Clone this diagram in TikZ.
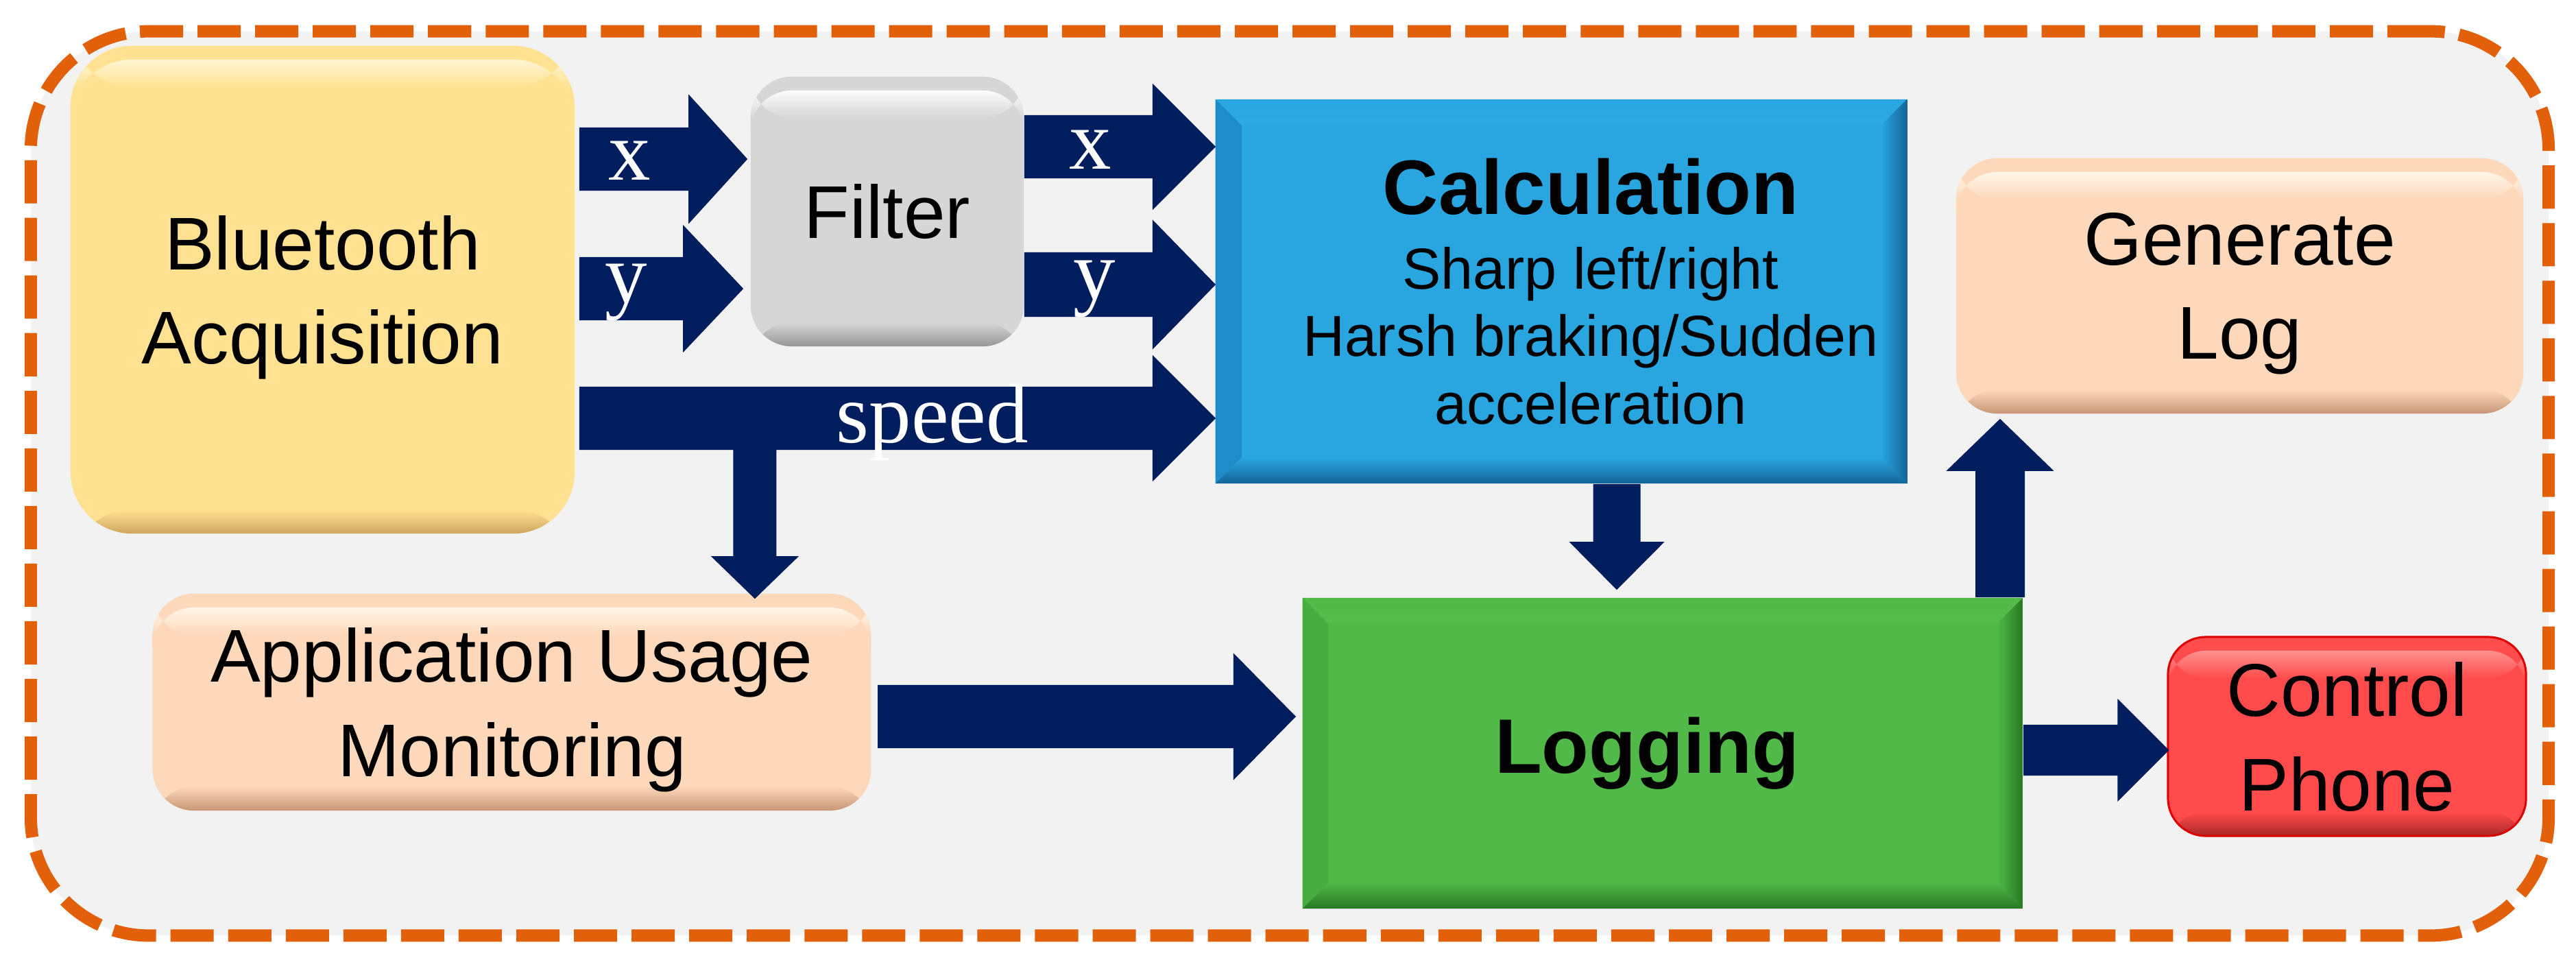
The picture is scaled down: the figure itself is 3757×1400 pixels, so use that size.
\documentclass[tikz,border=0pt]{standalone}
\usepackage{fontspec}
\setmainfont{Liberation Sans}
\newfontfamily\lblfont{Liberation Serif}
\usetikzlibrary{calc}
\definecolor{arrowblue}{RGB}{0,30,94}
\definecolor{frameorange}{RGB}{226,96,10}
\definecolor{bgray}{RGB}{242,242,242}
\definecolor{btmain}{RGB}{255,226,145}
\definecolor{btlight}{RGB}{255,246,212}
\definecolor{btdark}{RGB}{205,165,95}
\definecolor{fltmain}{RGB}{214,214,214}
\definecolor{fltlight}{RGB}{252,252,252}
\definecolor{fltdark}{RGB}{150,150,150}
\definecolor{calcmain}{RGB}{41,166,224}
\definecolor{calclight}{RGB}{95,212,255}
\definecolor{calcside}{RGB}{30,140,200}
\definecolor{calcdark}{RGB}{20,100,150}
\definecolor{peach}{RGB}{253,216,186}
\definecolor{peachlight}{RGB}{255,246,232}
\definecolor{peachdark}{RGB}{200,150,120}
\definecolor{logmain}{RGB}{80,185,72}
\definecolor{loglight}{RGB}{145,235,125}
\definecolor{logside}{RGB}{72,172,64}
\definecolor{logdark}{RGB}{40,120,35}
\definecolor{ctlmain}{RGB}{255,75,75}
\definecolor{ctllight}{RGB}{255,145,145}
\definecolor{ctldark}{RGB}{170,40,40}
\definecolor{ctledge}{RGB}{220,0,0}
\begin{document}
\begin{tikzpicture}[x=0.01cm,y=-0.01cm,
  frame/.style={draw=frameorange, fill=bgray, line width=0.18cm,
    dash pattern=on 0.63cm off 0.21cm, rounded corners=1.72cm,
    minimum width=36.7cm, minimum height=13.18cm},
  boxtext/.style={align=center, text=black, font=\fontsize{31pt}{39pt}\selectfont},
  rbox/.style n args={3}{boxtext, fill=#1, inner sep=0pt, text depth=0pt, path picture={
    \shade[top color=#1, bottom color=#2] (path picture bounding box.north west)
      rectangle ([yshift=-0.2cm]path picture bounding box.north east);
    \shade[top color=#2, bottom color=#1] ([yshift=-0.2cm]path picture bounding box.north west)
      rectangle ([yshift=-0.6cm]path picture bounding box.north east);
    \shade[top color=#1, bottom color=#3] ([yshift=0.35cm]path picture bounding box.south west)
      rectangle (path picture bounding box.south east);
  }},
  bbox/.style n args={4}{boxtext, fill=#1, inner sep=0pt, path picture={
    \shade[top color=#1, bottom color=#2] (path picture bounding box.north west)
      -- (path picture bounding box.north east)
      -- ([shift={(-0.38cm,-0.38cm)}]path picture bounding box.north east)
      -- ([shift={(0.38cm,-0.38cm)}]path picture bounding box.north west) -- cycle;
    \fill[#3] (path picture bounding box.north west)
      -- ([shift={(0.38cm,-0.38cm)}]path picture bounding box.north west)
      -- ([shift={(0.38cm,0.38cm)}]path picture bounding box.south west)
      -- (path picture bounding box.south west) -- cycle;
    \shade[left color=#1, right color=#4] ([shift={(-0.38cm,-0.38cm)}]path picture bounding box.north east)
      -- (path picture bounding box.north east)
      -- (path picture bounding box.south east)
      -- ([shift={(-0.38cm,0.38cm)}]path picture bounding box.south east) -- cycle;
    \shade[top color=#1, bottom color=#4] (path picture bounding box.south west)
      -- ([shift={(0.38cm,0.38cm)}]path picture bounding box.south west)
      -- ([shift={(-0.38cm,0.38cm)}]path picture bounding box.south east)
      -- (path picture bounding box.south east) -- cycle;
  }},
  blk/.style n args={3}{fill=arrowblue, draw=none, to path={
    ($(\tikztostart)!#1!90:(\tikztotarget)$)
    -- ($(\tikztotarget)!#3!(\tikztostart)!#1!90:(\tikztotarget)$)
    -- ($(\tikztotarget)!#3!(\tikztostart)!#2!90:(\tikztotarget)$)
    -- (\tikztotarget)
    -- ($(\tikztotarget)!#3!(\tikztostart)!#2!-90:(\tikztotarget)$)
    -- ($(\tikztotarget)!#3!(\tikztostart)!#1!-90:(\tikztotarget)$)
    -- ($(\tikztostart)!#1!-90:(\tikztotarget)$) -- cycle}},
  lbl/.style={text=white, inner sep=0pt, anchor=base,
    font=\lblfont\fontsize{35pt}{35pt}\selectfont}
]
\useasboundingbox (0,0) rectangle (3757,1400);
\fill[white] (0,0) rectangle (3757,1400);

\node[frame] (frame) at (1881,705) {};

% boxes
\node[rbox={btmain}{btlight}{btdark}, minimum width=7.35cm, minimum height=7.11cm,
  rounded corners=0.9cm] (bt) at (470.5,422.5) {Bluetooth\\Acquisition};
\node[rbox={fltmain}{fltlight}{fltdark}, minimum width=3.98cm, minimum height=3.93cm,
  rounded corners=0.6cm] (flt) at (1294,308.5) {Filter};
\node[bbox={calcmain}{calclight}{calcside}{calcdark}, minimum width=10.08cm,
  minimum height=5.6cm, font=\fontsize{24pt}{28pt}\selectfont] (calc) at (2277,425)
  {\hspace*{0.86cm}{\fontsize{32pt}{32pt}\selectfont\bfseries Calculation}\\[3pt]%
   \hspace*{0.86cm}Sharp left/right\\\hspace*{0.86cm}Harsh braking/Sudden\\\hspace*{0.86cm}acceleration};
\node[rbox={peach}{peachlight}{peachdark}, minimum width=8.27cm, minimum height=3.72cm,
  rounded corners=0.6cm] (gen) at (3266.5,417) {Generate\\Log};
\node[rbox={peach}{peachlight}{peachdark}, minimum width=10.47cm, minimum height=3.16cm,
  rounded corners=0.6cm] (app) at (746.5,1024) {Application Usage\\Monitoring};
\node[bbox={logmain}{loglight}{logside}{logdark}, minimum width=10.5cm,
  minimum height=4.53cm, font=\fontsize{32pt}{39pt}\selectfont\bfseries] (log) at (2425,1098.5)
  {Logging\hspace*{0.46cm}};
\node[rbox={ctlmain}{ctllight}{ctldark}, draw=ctledge, line width=0.03cm,
  minimum width=5.22cm, minimum height=2.9cm, rounded corners=0.55cm] (ctl) at (3423,1074) {Control\\Phone};

% connector end points
\coordinate (x1s) at ($(bt.east)+(6,-190.5)$);
\coordinate (x1e) at ($(flt.west)+(-4,-76.5)$);
\coordinate (y1s) at ($(bt.east)+(6,-1.5)$);
\coordinate (y1e) at ($(flt.west)+(-10,112.5)$);
\coordinate (x2s) at ($(flt.east)+(0,-94.5)$);
\coordinate (x2e) at ($(calc.west)+(1,-211)$);
\coordinate (y2s) at ($(flt.east)+(0,106.5)$);
\coordinate (y2e) at ($(calc.west)+(1,-10)$);
\coordinate (sps) at ($(bt.east)+(6,187.5)$);
\coordinate (spe) at ($(calc.west)+(1,185)$);
\coordinate (br) at ($(bt.east)+(262,187.5)$);
\coordinate (bre) at ($(br |- app.north)+(0,8)$);
\coordinate (ams) at ($(app.east)+(9,21)$);
\coordinate (ame) at ($(log.west)+(-9,-53.5)$);
\coordinate (cls) at ($(calc.south)+(81,0)$);
\coordinate (cle) at ($(log.north)+(-67,-11)$);
\coordinate (lgs) at ($(log.north)+(492,0)$);
\coordinate (lge) at ($(gen.south)+(-349.5,7)$);
\coordinate (lcs) at ($(log.east)+(0,-4.5)$);
\coordinate (lce) at ($(ctl.west)+(3,20)$);

% block arrows
\draw[blk={0.46cm}{0.945cm}{0.86cm}] (x1s) to (x1e);
\draw[blk={0.46cm}{0.93cm}{0.88cm}] (y1s) to (y1e);
\draw[blk={0.46cm}{0.92cm}{0.92cm}] (x2s) to (x2e);
\draw[blk={0.47cm}{0.945cm}{0.92cm}] (y2s) to (y2e);
\draw[blk={0.46cm}{0.92cm}{0.92cm}] (sps) to (spe);
\draw[blk={0.315cm}{0.64cm}{0.62cm}] (br) to (bre);
\draw[blk={0.46cm}{0.925cm}{0.91cm}] (ams) to (ame);
\draw[blk={0.345cm}{0.695cm}{0.70cm}] (cls) to (cle);
\draw[blk={0.36cm}{0.785cm}{0.76cm}] (lgs) to (lge);
\draw[blk={0.37cm}{0.75cm}{0.75cm}] (lcs) to (lce);

% arrow labels
\node[lbl] (lx1) at (918,263) {x};
\node[lbl] (ly1) at (913,441) {y};
\node[lbl] (lx2) at (1590,247) {x};
\node[lbl] (ly2) at (1596,436) {y};
\node[lbl] (lsp) at (1360,645) {speed};
\end{tikzpicture}
\end{document}
